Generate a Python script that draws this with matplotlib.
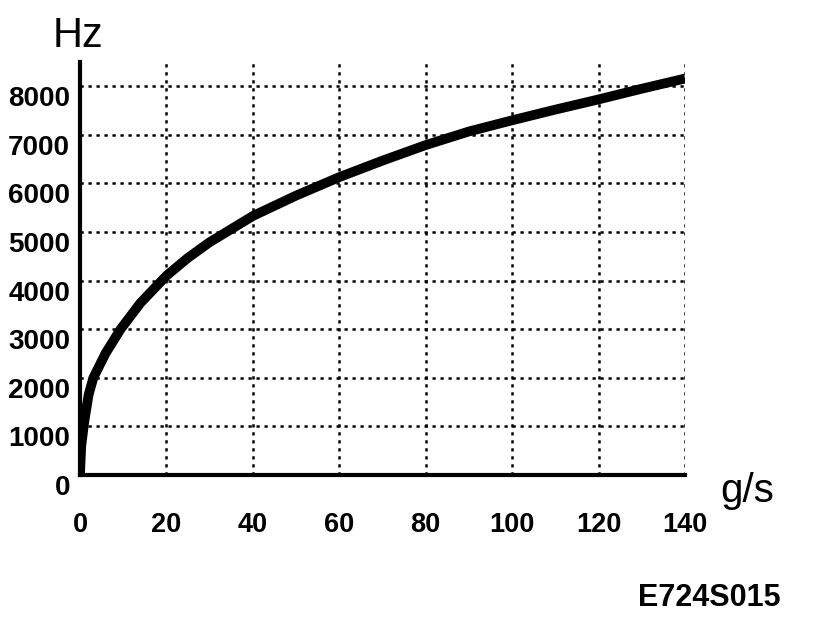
import matplotlib
matplotlib.use("Agg")
import matplotlib.pyplot as plt

plt.rcParams['font.family'] = ['Liberation Sans', 'DejaVu Sans']

# values
flow = [0, 0.3, 1.0, 2.0, 3.1, 5.9, 9.4, 14, 20, 25, 30, 40, 50, 60,
        70, 80, 90, 100, 110, 120, 130, 140]
freq = [0, 600, 1100, 1650, 2000, 2500, 3000, 3540, 4100, 4470, 4790,
        5330, 5750, 6130, 6470, 6790, 7070, 7300, 7520, 7730, 7950, 8160]

xticks = [0, 20, 40, 60, 80, 100, 120, 140]
yticks = [0, 1000, 2000, 3000, 4000, 5000, 6000, 7000, 8000]

fig = plt.figure(figsize=(8.16, 6.2), dpi=100)
ax = fig.add_axes([0.098, 0.234, 0.7415, 0.666])

# dotted grid
for xv in xticks[1:]:
    ax.axvline(xv, color='black', lw=1.8, linestyle=(0, (1.3, 1.9)), zorder=1)
for yv in yticks[1:]:
    ax.axhline(yv, color='black', lw=1.8, linestyle=(0, (1.3, 1.9)), zorder=1)

ax.plot(flow, freq, color='black', lw=7, solid_capstyle='butt',
        solid_joinstyle='round', zorder=3)

ax.set_xlim(0, 140)
ax.set_ylim(0, 8500)
ax.set_xticks(xticks)
ax.set_yticks(yticks)
ax.set_xticklabels([str(v) for v in xticks], fontsize=19.5, fontweight='bold')
ax.set_yticklabels([str(v) for v in yticks], fontsize=20, fontweight='bold')
ax.tick_params(axis='both', length=0)
ax.tick_params(axis='x', pad=27)
ax.tick_params(axis='y', pad=7)
for lab in ax.get_yticklabels():
    lab.set_verticalalignment('top')

for side in ['top', 'right']:
    ax.spines[side].set_visible(False)
for side in ['left', 'bottom']:
    ax.spines[side].set_linewidth(3)
    ax.spines[side].set_zorder(4)

fig.text(0.065, 0.91, 'Hz', fontsize=30, ha='left', va='bottom')
fig.text(0.883, 0.178, 'g/s', fontsize=29, ha='left', va='bottom')
fig.text(0.782, 0.012, 'E724S015', fontsize=22, fontweight='bold', ha='left', va='bottom')

fig.savefig('out.png', dpi=100, facecolor='white')
